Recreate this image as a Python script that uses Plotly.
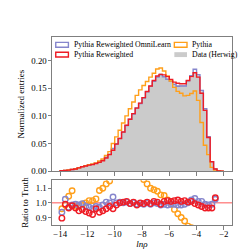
import numpy as np
import plotly.graph_objects as go

# ---- data ----
bin_edges = np.linspace(-14.0, -2.0, 49)

data_herwig = [0.0009, 0.0012, 0.0021, 0.0031, 0.0041, 0.0063, 0.0084, 0.0101, 0.0118, 0.0130,
               0.0146, 0.0171, 0.0201, 0.0250, 0.0308, 0.0396, 0.0497, 0.0590, 0.0706, 0.0822,
               0.0945, 0.1035, 0.1157, 0.1230, 0.1337, 0.1433, 0.1548, 0.1624, 0.1711, 0.1768,
               0.1723, 0.1685, 0.1644, 0.1586, 0.1559, 0.1564, 0.1557, 0.1632, 0.1693, 0.1789,
               0.1726, 0.1446, 0.1140, 0.0632, 0.0176, 0.0039, 0.0, 0.0]

pythia_rew = [0.0008, 0.0012, 0.0020, 0.0030, 0.0040, 0.0060, 0.0080, 0.0095, 0.0110, 0.0120,
              0.0140, 0.0160, 0.0190, 0.0240, 0.0300, 0.0380, 0.0490, 0.0590, 0.0710, 0.0830,
              0.0940, 0.1040, 0.1140, 0.1230, 0.1330, 0.1440, 0.1540, 0.1640, 0.1720, 0.1750,
              0.1740, 0.1710, 0.1660, 0.1610, 0.1590, 0.1580, 0.1580, 0.1640, 0.1710, 0.1780,
              0.1700, 0.1410, 0.1100, 0.0610, 0.0170, 0.0040, 0.0003, 0.0]

pythia_omni = [0.00084, 0.00123, 0.00204, 0.00305, 0.00406, 0.0062, 0.00836, 0.00985, 0.01145, 0.01248,
               0.01424, 0.01659, 0.0198, 0.02513, 0.0308, 0.0412, 0.0497, 0.0593, 0.0706, 0.0826,
               0.0940, 0.1035, 0.1145, 0.1224, 0.1324, 0.1433, 0.1533, 0.1624, 0.1702, 0.1741,
               0.1706, 0.1660, 0.1628, 0.1570, 0.1536, 0.1541, 0.1541, 0.1632, 0.1727, 0.1843,
               0.1743, 0.1460, 0.1129, 0.0623, 0.0174, 0.0040, 0.0003, 0.0]

pythia = [0.00086, 0.0012, 0.0022, 0.0034, 0.0040, 0.0062, 0.0083, 0.0101, 0.0120, 0.0132,
          0.0150, 0.0186, 0.0221, 0.0283, 0.0354, 0.0500, 0.0620, 0.0740, 0.0870, 0.1000,
          0.1130, 0.1250, 0.1370, 0.1470, 0.1550, 0.1620, 0.1700, 0.1770, 0.1848, 0.1865,
          0.1810, 0.1720, 0.1630, 0.1515, 0.1442, 0.1408, 0.1362, 0.1370, 0.1405, 0.1450,
          0.1280, 0.0880, 0.0470, 0.0300, 0.0070, 0.0020, 0.0005, 0.0]

ratio_omni = [0.935, 1.025, 0.97, 0.985, 0.99, 0.985, 0.995, 0.975, 0.97, 0.96,
              0.975, 0.97, 0.985, 1.005, 1.0, 1.04, 1.0, 1.005, 1.0, 1.005,
              0.995, 1.0, 0.99, 0.995, 0.99, 1.0, 0.99, 1.0, 0.995, 0.985,
              0.99, 0.985, 0.99, 0.99, 0.985, 0.985, 0.99, 1.0, 1.02, 1.03,
              1.01, 1.01, 0.99, 0.985, 0.99, 1.025, None, None]

ratio_rew = [0.895, 0.99, 0.965, 0.98, 0.965, 0.945, 0.955, 0.94, 0.93, 0.92,
             0.96, 0.935, 0.945, 0.96, 0.975, 0.96, 0.985, 1.0, 1.005, 1.01,
             0.995, 1.005, 0.985, 1.0, 0.995, 1.005, 0.995, 1.01, 1.005, 0.99,
             1.01, 1.015, 1.01, 1.015, 1.02, 1.01, 1.015, 1.005, 1.01, 0.995,
             0.985, 0.975, 0.965, 0.965, 0.965, 1.035, None, None]

ratio_pythia = [0.96, 0.985, 1.045, 1.083, 0.977, 0.977, 0.99, 1.0, 1.015, 1.015,
                1.027, 1.085, 1.10, 1.13, 1.15, 1.26, 1.25, 1.25, 1.23, 1.22,
                1.20, 1.21, 1.18, 1.195, 1.16, 1.13, 1.10, 1.09, 1.08, 1.055,
                1.05, 1.02, 0.99, 0.955, 0.925, 0.90, 0.875, 0.84, 0.83, 0.81,
                0.74, 0.61, 0.41, 0.47, 0.40, 0.51, None, None]

x_ticks = [-14, -12, -10, -8, -6, -4, -2]

# ---- styling ----
C_OMNI = "#8585cc"
C_REW = "#ee1c25"
C_PYT = "#ff9f1a"
C_DATA = "#cbcbcb"
C_AX = "#7f7f7f"
FONT = "Liberation Serif"

centers = 0.5 * (bin_edges[:-1] + bin_edges[1:])


def step_xy(vals):
    xs = [bin_edges[0]] + list(bin_edges)
    ys = [0.0] + list(vals) + [0.0]
    return xs, ys


fig = go.Figure()

xs, ys = step_xy(data_herwig)
fig.add_trace(go.Scatter(x=xs, y=ys, mode="lines", line=dict(shape="hv", width=0, color=C_DATA),
                         fill="tozeroy", fillcolor=C_DATA, showlegend=False, xaxis="x", yaxis="y"))
for vals, col in [(pythia_omni, C_OMNI), (pythia, C_PYT), (pythia_rew, C_REW)]:
    xs, ys = step_xy(vals)
    fig.add_trace(go.Scatter(x=xs, y=ys, mode="lines", line=dict(shape="hv", width=1.4, color=col),
                             showlegend=False, xaxis="x", yaxis="y"))

for vals, col in [(ratio_pythia, C_PYT), (ratio_omni, C_OMNI), (ratio_rew, C_REW)]:
    fig.add_trace(go.Scatter(x=centers, y=vals, mode="markers",
                             marker=dict(symbol="circle-open", size=5.5, color=col, line=dict(width=1.4, color=col)),
                             showlegend=False, xaxis="x2", yaxis="y2"))

# reference line at 1 in ratio panel
fig.add_shape(type="line", xref="x2 domain", yref="y2", x0=0, x1=1, y0=1.0, y1=1.0,
              line=dict(color="#ff5555", width=1), layer="below")

# ---- manual legend (matplotlib-like patches) ----
L, PW, PH = 32.0, 192.0, 192.0  # plot-area left/width/height in px, top at 29


def px2paper(px, py):
    return (px - L) / PW, (221.0 - py) / PH


legend_items = [
    ("Pythia Reweighted OmniLearn", C_OMNI, False, 36.0, 37.0),
    ("Pythia Reweighted", C_REW, False, 36.0, 47.0),
    ("Pythia", C_PYT, False, 162.5, 37.0),
    ("Data (Herwig)", C_DATA, True, 162.5, 47.0),
]
for text, col, filled, px, py in legend_items:
    x0, y0 = px2paper(px, py + 2.5)
    x1, y1 = px2paper(px + 13.5, py - 2.5)
    fig.add_shape(type="rect", xref="paper", yref="paper", x0=x0, y0=y0, x1=x1, y1=y1,
                  line=dict(color=col, width=0 if filled else 1.4),
                  fillcolor=col if filled else "rgba(0,0,0,0)")
    tx, ty = px2paper(px + 17, py)
    fig.add_annotation(x=tx, y=ty, xref="paper", yref="paper", text=text, showarrow=False,
                       xanchor="left", yanchor="middle", font=dict(family=FONT, size=7.8, color="black"))

axis_common = dict(showline=True, linecolor=C_AX, linewidth=1, mirror=True, ticks="outside",
                   ticklen=3.5, tickwidth=1, tickcolor=C_AX, showgrid=False, zeroline=False,
                   tickfont=dict(family=FONT, size=8.8, color="black"))

fig.update_layout(
    width=249, height=249,
    margin=dict(l=32, r=25, t=29, b=28),
    paper_bgcolor="white", plot_bgcolor="white",
    showlegend=False,
    xaxis=dict(domain=[0, 1], range=[-14.6, -1.4], tickvals=x_ticks, showticklabels=False,
               anchor="y", **axis_common),
    yaxis=dict(domain=[0.286, 1], range=[0, 0.2425], tickvals=[0, 0.05, 0.10, 0.15, 0.20],
               tickformat=".2f", anchor="x", ticklabelstandoff=-1,
               title=dict(text="Normalized entries", font=dict(family=FONT, size=9, color="black"), standoff=5),
               **axis_common),
    xaxis2=dict(domain=[0, 1], range=[-14.6, -1.4], tickvals=x_ticks, anchor="y2", ticklabelstandoff=-3,
                title=dict(text="<i>lnρ</i>", font=dict(family=FONT, size=9, color="black"), standoff=0),
                **axis_common),
    yaxis2=dict(domain=[0, 0.238], range=[0.848, 1.155], tickvals=[0.9, 1.0, 1.1], tickformat=".1f",
                anchor="x2", ticklabelstandoff=-1,
                title=dict(text="Ratio to Truth", font=dict(family=FONT, size=9, color="black"), standoff=5),
                **axis_common),
)

fig.write_html("out.html")
